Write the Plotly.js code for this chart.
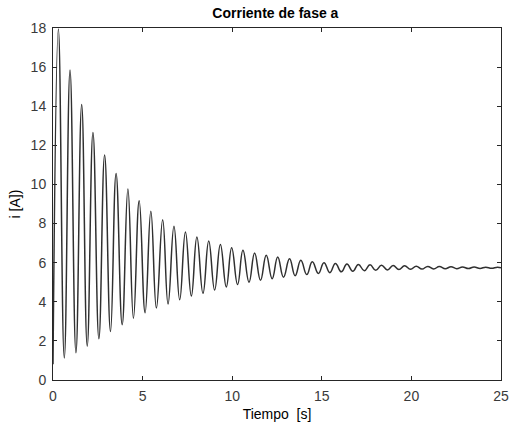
<!DOCTYPE html>
<html>
<head>
<meta charset="utf-8">
<script src="https://cdn.plot.ly/plotly-3.0.1.min.js"></script>
<style>html,body{margin:0;padding:0;background:#fff;}#chart{width:510px;height:428px;}</style>
</head>
<body>
<div id="chart"></div>
<script>
// Extremum times (s) and current values (A)
const startTime = [0.0];
const startValue = [0.8];
const peakTimes = [0.30,0.95,1.60,2.23,2.88,3.52,4.18,4.81,5.46,6.12,6.75,7.39,8.03,8.69,9.34,9.97,10.60,11.25,11.90,12.54,13.20,13.83,14.47,15.12,15.76,16.40,17.04,17.69,18.33,18.98,19.62,20.27,20.91,21.56,22.21,22.85,23.50,24.15,24.80];
const peakValues = [17.95,15.85,14.09,12.66,11.50,10.56,9.77,9.16,8.63,8.20,7.86,7.57,7.31,7.11,6.93,6.76,6.63,6.50,6.38,6.29,6.20,6.12,6.05,6.00,5.96,5.93,5.91,5.89,5.87,5.85,5.84,5.82,5.81,5.80,5.79,5.78,5.78,5.77,5.77];
const troughTimes = [0.63,1.28,1.91,2.56,3.21,3.86,4.49,5.14,5.77,6.42,7.07,7.72,8.37,9.02,9.67,10.30,10.94,11.58,12.23,12.86,13.51,14.16,14.81,15.45,16.09,16.73,17.37,18.01,18.66,19.30,19.95,20.59,21.24,21.89,22.53,23.18,23.83,24.47];
const troughValues = [1.12,1.39,1.73,2.11,2.48,2.83,3.16,3.44,3.68,3.88,4.10,4.29,4.43,4.60,4.76,4.88,5.00,5.10,5.18,5.26,5.33,5.39,5.45,5.49,5.53,5.56,5.59,5.61,5.63,5.645,5.66,5.67,5.68,5.69,5.695,5.70,5.705,5.71];
const endTime = [25.0];
const endValue = [5.74];

const xTicks = [0,5,10,15,20,25];
const yTicks = [0,2,4,6,8,10,12,14,16,18];

// merge extrema in time order
const pts = [];
startTime.forEach((t,i)=>pts.push([t,startValue[i]]));
peakTimes.forEach((t,i)=>pts.push([t,peakValues[i]]));
troughTimes.forEach((t,i)=>pts.push([t,troughValues[i]]));
endTime.forEach((t,i)=>pts.push([t,endValue[i]]));
pts.sort((a,b)=>a[0]-b[0]);

const trace = {
  x: pts.map(p=>p[0]),
  y: pts.map(p=>p[1]),
  type: 'scatter',
  mode: 'lines',
  line: {color:'#303030', width:1.5, shape:'spline', smoothing:1.3},
  hoverinfo:'skip'
};

const FONT = 'Liberation Sans, Arial, sans-serif';
const axisCommon = {
  showgrid:false, zeroline:false, showline:true, linecolor:'#262626', linewidth:1,
  mirror:'ticks', ticks:'inside', ticklen:4, tickcolor:'#262626', tickwidth:1,
  ticklabelstandoff:3,
  tickfont:{family:FONT, size:14, color:'#3a3a3a'}
};

const layout = {
  width:510, height:428,
  margin:{l:53, r:9, t:28, b:48},
  paper_bgcolor:'#ffffff', plot_bgcolor:'#ffffff',
  showlegend:false,
  title:{text:'<b>Corriente de fase a</b>', x:0.54, xanchor:'center', y:0.982, yanchor:'top',
         font:{family:FONT, size:14, color:'#000'}},
  xaxis:Object.assign({}, axisCommon, {
    range:[0,25], tickvals:xTicks, ticktext:xTicks.map(String),
    title:{text:'Tiempo  [s]', standoff:6, font:{family:FONT, size:14, color:'#000'}}
  }),
  yaxis:Object.assign({}, axisCommon, {
    range:[0,18], tickvals:yTicks, ticktext:yTicks.map(String),
    title:{text:'i [A])', standoff:6, font:{family:FONT, size:14, color:'#000'}}
  })
};

Plotly.newPlot('chart', [trace], layout, {staticPlot:true, displayModeBar:false});
</script>
</body>
</html>
